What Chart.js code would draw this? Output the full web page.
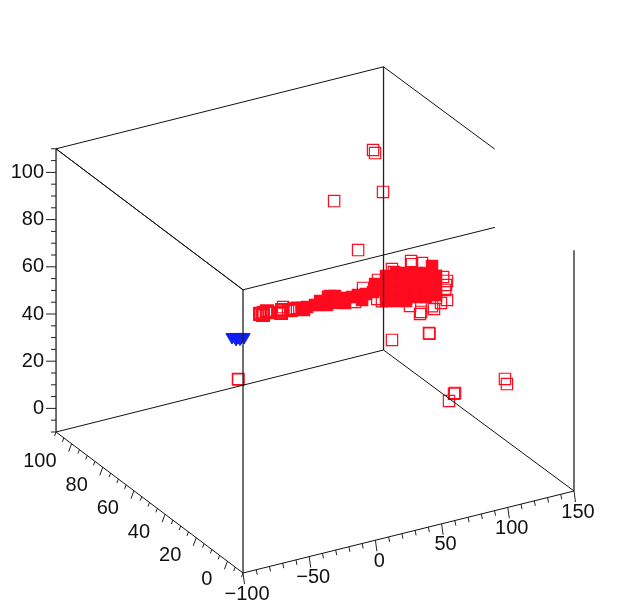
<!DOCTYPE html>
<html>
<head>
<meta charset="utf-8">
<style>
  html, body { margin: 0; background: #fff; }
  canvas { display: block; filter: blur(0.4px); }
</style>
<script src="https://cdn.jsdelivr.net/npm/chart.js@4"></script>
</head>
<body>
<canvas id="plot" width="634" height="614"></canvas>
<script>
const X_LABELS = [-100, -50, 0, 50, 100, 150];
const Y_LABELS = [0, 20, 40, 60, 80, 100];
const Z_LABELS = [0, 20, 40, 60, 80, 100];

// outliers and loose squares around the cluster
const openX = [129.9, 131.4, 137.5, 100.2, 118.5, 84.1, 112.2, 112.6, -32.8, -32.5, 132, 131.2, 127.4, 109.8, 111.3,
  -16.1, -13.8, -11.5, -9.2, -0.9, 0.6, 1.4, 8.2, 9.7, 12, 5.2, 62.1, 72.9, 56,
  98.6, 99.3, 106.9, 84.1, 85.6, 125.9, 125.1, 124.4, 122.9, 125.9, 121.3, 117.5, 116, 114.5, 105.4, 106.2, 97.8, 76.5, 73.5];
const openY = [100, 100, 100, 100, 100, 50, 50, 50, 50, 50, 50, 50, 50, 0, 0,
  50, 50, 50, 50, 50, 50, 50, 50, 50, 50, 50, 50, 50, 50,
  50, 50, 50, 50, 50, 50, 50, 50, 50, 50, 50, 50, 50, 50, 50, 50, 50, 50, 50];
const openZ = [82.5, 81, 63.7, 65, 41.7, 33.3, 32.3, 32, 33, 32.7, 4.2, 3.9, 1.4, 38.1, 35.7,
  58.6, 58.7, 58.4, 57.7, 56.9, 57.6, 58.7, 56.5, 56.7, 56.9, 56.5, 58.4, 52.2, 53.3,
  64.7, 63.3, 62.7, 63.3, 61.9, 52.5, 50.9, 48.9, 54.6, 44.4, 43.8, 46.4, 42, 43.4, 41.3, 42.1, 45.8, 50.8, 60.2];

// repeated squares at the thin end of the cloud, heavier outline
const heavyX = [-16.1, -13.8, -10.8, -0.1, 0.6, 7.4, 9.7];
const heavyZ = [58.2, 57.5, 58.7, 56.4, 57.6, 56.6, 56.7];
const HEAVY_Y = 50;

// overplotted part of the cloud, solid in the picture
const denseX = [79.6, 79.6, 79.6, 79.6, 87.2, 87.2, 87.2, 87.2, 94.8, 94.8, 94.8, 94.8, 102.4, 102.4, 102.4, 102.4,
  110, 110, 110, 110, 117.5, 117.5, 117.5, 114.5,
  15.8, 19.6, 25.7, 31, 36.3, 41.6, 48.4, 53.8, 58.3, 64.4, 69.7, 74.3, 34.8, 37,
  17.3, 29.5, 35.5, 40.8, 41, 48.4, 61.4, 71.3];
const denseZ = [61, 56.8, 52.5, 50.4, 61.2, 57, 52.8, 49.4, 60.2, 56, 51.8, 48.3, 59.1, 54.9, 50.7, 48.9,
  58.1, 53.8, 49.6, 47.9, 55.8, 51.5, 47.7, 60.4,
  56.3, 56.2, 56.2, 56.3, 56.4, 56.6, 56, 55.7, 55.9, 55.5, 55.6, 55.8, 55, 58.5,
  55.3, 57.4, 58.3, 57.9, 55, 53.9, 53.4, 58.8];
const DENSE_Y = 50;

const blueX = [-37.4, -35.1, -32.8, -30.5, -28.2, -34.3, -31.3];
const blueZ = [51.4, 51.1, 50.8, 50.5, 50.1, 50.2, 49.9];
const BLUE_Y = 50;

const RED = "#ff0a1e";
const BLUE = "#0f1ef5";
const AXIS_FONT = '20px "Liberation Sans", Arial, sans-serif';

// fixed view of the box, x -100..150, y and z -10..110
function project(x, y, z) {
  const a = x + 100;
  const b = y + 10;
  return {
    x: 243 + 1.324 * a - 1.558 * b - 0.000117 * a * b,
    y: 573 - 0.328 * a - 1.175 * b - 2.36 * (z + 10),
  };
}

function polyline(corners) {
  return corners.map((corner) => project(corner[0], corner[1], corner[2]));
}

function tickSegments(from, to, step, majorEvery, toPoint, majorOffset, minorOffset) {
  const points = [];
  for (let value = from; value <= to; value += step) {
    const base = toPoint(value);
    const offset = value % majorEvery === 0 ? majorOffset : minorOffset;
    points.push(base, { x: base.x + offset[0], y: base.y + offset[1] }, { x: base.x, y: NaN });
  }
  return points;
}

function lineDataset(data, width, color) {
  return {
    data,
    showLine: true,
    borderColor: color,
    borderWidth: width,
    pointRadius: 0,
    spanGaps: false,
    order: 0,
  };
}

function squareDataset(data, width, fill, order) {
  return {
    data,
    pointStyle: "rect",
    pointRadius: 8,
    pointBorderColor: RED,
    pointBorderWidth: width,
    pointBackgroundColor: fill,
    order,
  };
}

const edges = [
  polyline([[-100, 110, -10], [-100, -10, -10], [150, -10, -10], [150, 110, -10], [-100, 110, -10]]),
  polyline([[-100, -10, 110], [-100, 110, 110], [150, 110, 110], [150, 40, 110]]),
  polyline([[-100, 110, 110], [-100, -10, 110], [90.3, -10, 110]]),
];
const uprights = [
  polyline([[-100, 110, -10], [-100, 110, 110]]),
  polyline([[-100, -10, -10], [-100, -10, 110]]),
  polyline([[150, 110, -10], [150, 110, 110]]),
  polyline([[150, -10, -10], [150, -10, 92]]),
];

const xTicks = tickSegments(-100, 150, 10, 50, (v) => project(v, -10, -10), [1.5, 11], [1, 5]);
const yTicks = tickSegments(-10, 110, 5, 20, (v) => project(-100, v, -10), [-3, 8], [-1.5, 4]);
const zTicks = tickSegments(-10, 110, 5, 20, (v) => project(-100, 110, v), [-10, 0], [-5, 0]);

const axisLabels = {
  id: "axisLabels",
  afterDatasetsDraw(chart) {
    const { ctx, scales } = chart;
    const put = (text, point, dx, dy, align) => {
      ctx.textAlign = align;
      ctx.fillText(text, scales.x.getPixelForValue(point.x) + dx, scales.y.getPixelForValue(point.y) + dy);
    };
    ctx.save();
    ctx.font = AXIS_FONT;
    ctx.fillStyle = "#111";
    ctx.textBaseline = "middle";
    X_LABELS.forEach((v) => put(String(v).replace("-", "\u2212"), project(v, -10, -10), 4, 21, "center"));
    Y_LABELS.forEach((v) => put(String(v), project(-100, v, -10), -15, 18, "right"));
    Z_LABELS.forEach((v) => put(String(v), project(-100, 110, v), -12, 0, "right"));
    ctx.restore();
  },
};

new Chart(document.getElementById("plot"), {
  type: "scatter",
  data: {
    datasets: [
      ...edges.map((edge) => lineDataset(edge, 1, "#111")),
      ...uprights.map((edge) => lineDataset(edge, 1.3, "#222")),
      lineDataset(xTicks, 1, "#222"),
      lineDataset(yTicks, 1, "#222"),
      lineDataset(zTicks, 1, "#222"),
      squareDataset(openX.map((x, i) => project(x, openY[i], openZ[i])), 1.2, "transparent", 1),
      squareDataset(heavyX.map((x, i) => project(x, HEAVY_Y, heavyZ[i])), 2.6, "transparent", 1),
      squareDataset(denseX.map((x, i) => project(x, DENSE_Y, denseZ[i])), 1.2, RED, 2),
      {
        data: blueX.map((x, i) => project(x, BLUE_Y, blueZ[i])),
        pointStyle: "triangle",
        pointRotation: 180,
        pointRadius: 7,
        pointBorderColor: BLUE,
        pointBorderWidth: 1,
        pointBackgroundColor: BLUE,
        order: 1,
      },
    ],
  },
  options: {
    responsive: false,
    animation: false,
    events: [],
    layout: { autoPadding: false },
    plugins: { legend: { display: false }, tooltip: { enabled: false } },
    scales: {
      x: { type: "linear", display: false, min: 0, max: 634 },
      y: { type: "linear", display: false, min: 0, max: 614, reverse: true },
    },
  },
  plugins: [axisLabels],
});
</script>
</body>
</html>
